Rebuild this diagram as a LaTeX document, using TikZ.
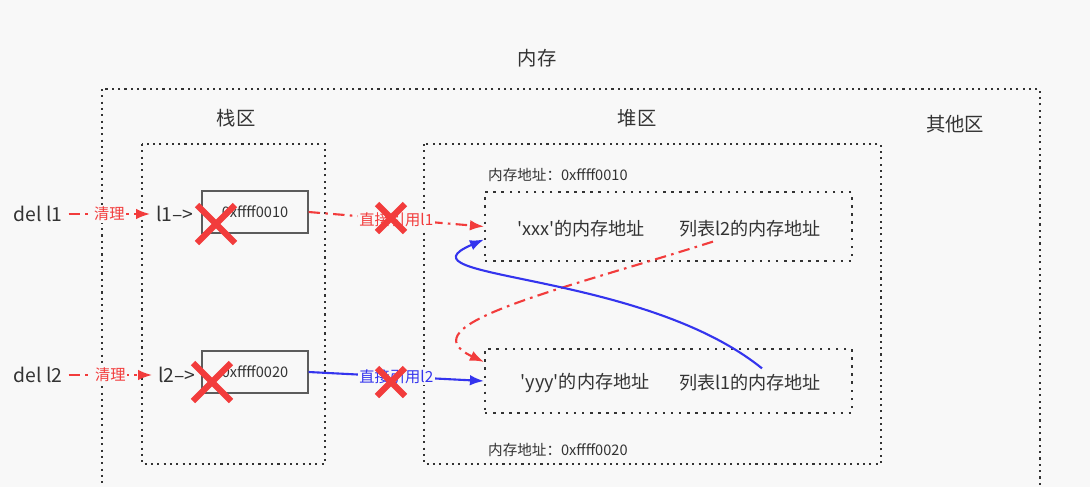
\documentclass[tikz,border=0pt]{standalone}
\usepackage{fontspec}
\setmainfont{Noto Sans CJK SC}
\usetikzlibrary{arrows.meta,calc}

\definecolor{bg}{HTML}{F8F8F8}
\definecolor{ink}{HTML}{333333}
\definecolor{cutred}{HTML}{F23C3C}
\definecolor{refblue}{HTML}{3434EE}

\tikzset{
	zoneframe/.style={ink, line width=1.2pt, dash pattern=on 1.2pt off 2.4pt},
	cell/.style={draw=ink, line width=1.2pt, dash pattern=on 1.4pt off 3.2pt, minimum width=7.34cm},
	ptr/.style={draw=ink!80, line width=0.7pt, minimum width=2.12cm, minimum height=0.84cm, text=ink, font=\fontsize{8.3}{9}\selectfont},
	zone/.style={text=ink, font=\fontsize{11}{13}\selectfont},
	txt/.style={text=ink, font=\fontsize{10.3}{12}\selectfont},
	var/.style={text=ink, font=\fontsize{11}{13}\selectfont},
	addr/.style={text=ink, font=\fontsize{8.3}{10}\selectfont, anchor=west},
	tag/.style={fill=bg, inner sep=1pt, font=\fontsize{8.7}{10}\selectfont},
	refline/.style={line width=1.2pt, dash pattern=on 6.5pt off 3pt on 1.5pt off 3pt},
	headarr/.style={-{Latex[length=8pt,width=6pt]}}
}

\newcommand{\cross}[2]{
	\draw[cutred, line width=3.6pt] (#1)++(-#2,-#2) --++ (2*#2,2*#2) (#1)++(-#2,#2) --++ (2*#2,-2*#2);
}

\begin{document}
\begin{tikzpicture}
	[x=0.02cm, y=-0.02cm]
	\useasboundingbox[fill=bg] (0,0) rectangle (1090,487);
	\clip (0,0) rectangle (1090,487);
	% areas
	\node[zone] (mem) at (537,58) {内存};
	\draw[zoneframe] (102,89) rectangle (1040,520);
	\node[zone] (stacklbl) at (236,118) {栈区};
	\node[zone] (heaplbl) at (637,118) {堆区};
	\node[zone] (otherlbl) at (955,124) {其他区};
	\draw[zoneframe] (142,144) rectangle (325,464);
	\draw[zoneframe] (424,144) rectangle (881,464);
	% heap
	\node[addr] (addr1) at (482,175) {内存地址：0xffff0010};
	\node[cell, minimum height=1.38cm] (obj1) at (668.5,226.5) {};
	\node[txt] (xxx) at (581,229) {\textquotesingle xxx\textquotesingle 的内存地址};
	\node[txt] (l2ref) at (750,229) {列表l2的内存地址};
	\node[cell, minimum height=1.28cm] (obj2) at (668.5,381) {};
	\node[txt] (yyy) at (585,383) {\textquotesingle yyy\textquotesingle 的内存地址};
	\node[txt] (l1ref) at (750,383) {列表l1的内存地址};
	\node[addr] (addr2) at (482,450) {内存地址：0xffff0020};
	% stack
	\node[var] (del1) at (38,214) {del l1};
	\node[var] (var1) at (175,214) {l1–>};
	\node[ptr] (box1) at (255,212) {0xffff0010};
	\node[var] (del2) at (38,375) {del l2};
	\node[var] (var2) at (177,375) {l2–>};
	\node[ptr] (box2) at (255,372) {0xffff0020};
	% links
	\draw[cutred, refline, headarr] (del1) -- (var1) node[tag, midway, text=cutred] {清理};
	\draw[cutred, refline, headarr] (del2) -- (var2) node[tag, midway, text=cutred] {清理};
	\draw[cutred, refline, headarr] (box1.east) -- (obj1.west) node[tag, midway, text=cutred] {直接引用l1};
	\draw[refblue, line width=1.2pt, headarr] (box2.east) -- (obj2.west) node[tag, midway, text=refblue] {直接引用l2};
	\draw[cutred, refline, headarr] ($(l2ref.south)+(-37,-2)$) .. controls (560,290) and (405,325) .. ($(obj2.north west)+(0,14)$);
	\draw[refblue, line width=1.2pt, headarr] ($(l1ref.north)+(12,0)$) .. controls (640,270) and (390,280) .. ($(obj1.west)+(0,13)$);
	% deleted
	\cross{216,224}{19}
	\cross{212,382}{19}
	\cross{391,218}{14}
	\cross{391,382}{14}
\end{tikzpicture}
\end{document}
